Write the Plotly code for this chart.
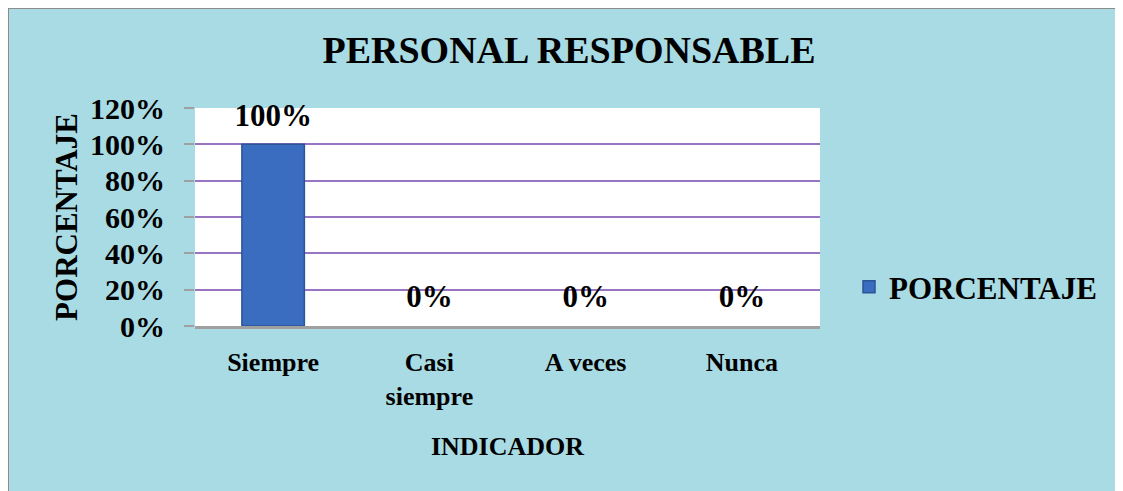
import plotly.graph_objects as go

# data
categorias = ["Siempre", "Casi<br>siempre", "A veces", "Nunca"]
porcentaje = [1.00, 0.0, 0.0, 0.0]
serie = "PORCENTAJE"
titulo = "PERSONAL RESPONSABLE"
eje_x = "INDICADOR"
eje_y = "PORCENTAJE"

# the page body adds an 8px margin, so the figure starts at (8, 8)
OFF = 8
W, H = 1123 - OFF, 491 - OFF
L, R, T, B = 195 - OFF, 820 - OFF, 108 - OFF, 326 - OFF   # plot area

def px_x(p):
    # p: x in reference pixels
    return (p - OFF - L) / (R - L)

def px_y(p):
    return (B - (p - OFF)) / (B - T)

serif = "Liberation Serif, Times New Roman, serif"
grid = "#9775c2"
bold = dict(family=serif, color="black", weight="bold")

fig = go.Figure()
fig.add_trace(go.Bar(
    x=categorias, y=porcentaje, name=serie,
    width=0.4,
    marker=dict(color="#3a6cc0",
                line=dict(color="#2a5597",
                          width=[1.5 if v > 0 else 0 for v in porcentaje])),
))
# data labels
fig.add_trace(go.Scatter(
    x=categorias, y=porcentaje, mode="markers+text", showlegend=False,
    marker=dict(size=16, opacity=0), hoverinfo="skip",
    text=[f"{v:.0%}" for v in porcentaje], textposition="top center",
    textfont=dict(bold, size=31), cliponaxis=False,
))

fig.update_layout(
    width=W, height=H,
    margin=dict(l=L, r=W - R, t=T, b=H - B),
    paper_bgcolor="#a9dbe4", plot_bgcolor="white",
    title=dict(text=titulo, x=px_x(569), xanchor="center", xref="paper",
               y=1 - (50 - OFF) / H, yanchor="middle",
               font=dict(bold, size=38)),
    showlegend=True,
    legend=dict(x=px_x(849), y=px_y(287), xanchor="left", yanchor="middle",
                bgcolor="rgba(0,0,0,0)", font=dict(bold, size=31)),
    shapes=[
        # frame on top and left edges
        dict(type="line", xref="paper", yref="paper",
             x0=px_x(OFF), x1=px_x(1123), y0=px_y(OFF), y1=px_y(OFF),
             line=dict(color="#8c8c8c", width=2)),
        dict(type="line", xref="paper", yref="paper",
             x0=px_x(OFF), x1=px_x(OFF), y0=px_y(OFF), y1=px_y(491),
             line=dict(color="#8c8c8c", width=2)),
    ],
)

fig.update_yaxes(
    range=[0, 1.2], dtick=0.2, tickformat=".0%",
    showgrid=True, gridcolor=grid, gridwidth=1.5,
    ticks="outside", ticklen=10, tickcolor="#a0a0a0", tickwidth=1.5,
    ticklabelstandoff=13,
    zeroline=False, showline=False,
    tickfont=dict(bold, size=30),
    title=dict(text=eje_y, standoff=3, font=dict(bold, size=31)),
)
fig.update_xaxes(
    showline=True, linecolor="#a0a0a0", linewidth=2.5,
    ticks="outside", ticklen=11, tickcolor="rgba(0,0,0,0)",
    tickfont=dict(bold, size=26),
    title=dict(text=eje_x, standoff=28, font=dict(bold, size=26)),
)

fig.write_html("out.html")
